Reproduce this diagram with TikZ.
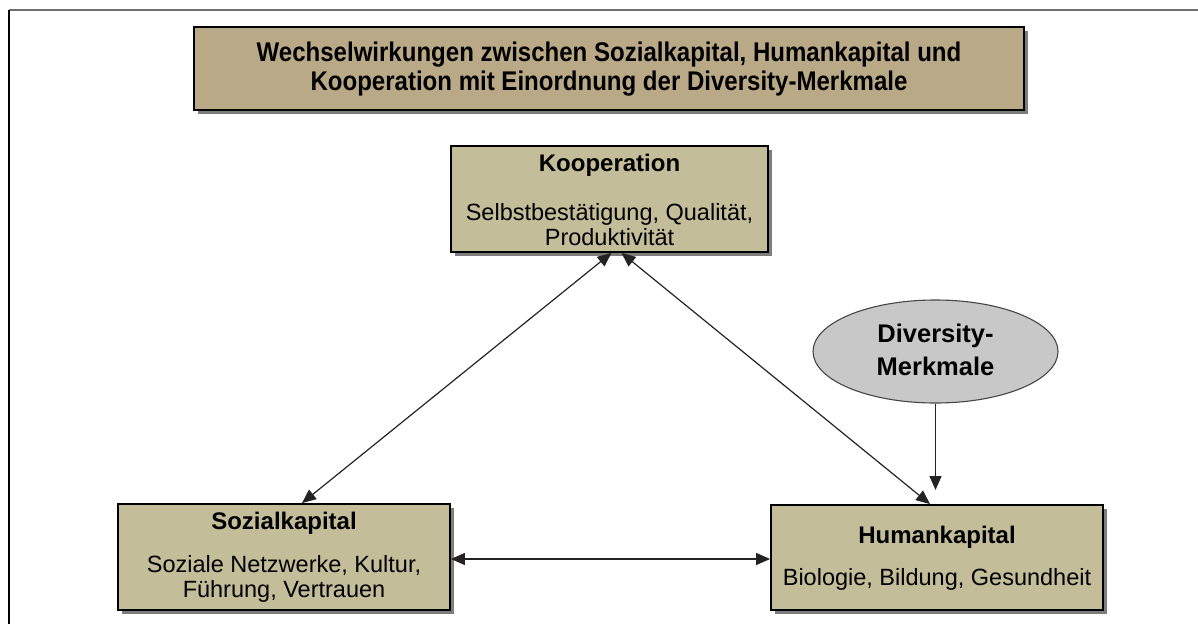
\documentclass[tikz,border=0pt]{standalone}
\usepackage{fontspec}
\setmainfont{Liberation Sans}
\newfontfamily\narrowsans[FakeStretch=0.89]{Liberation Sans}
\usetikzlibrary{arrows.meta,shapes.geometric,shadows}
\definecolor{titlefill}{RGB}{185,169,135}
\definecolor{boxfill}{RGB}{196,189,153}
\definecolor{ovalfill}{RGB}{200,200,200}
\definecolor{ovalline}{RGB}{70,70,70}
\definecolor{shadowgray}{RGB}{125,125,125}
\definecolor{linkgray}{RGB}{35,35,35}
\definecolor{framegray}{RGB}{110,110,110}
\begin{document}
\begin{tikzpicture}[x=1pt,y=-1pt,
  panel/.style={rectangle, draw=black, line width=1.8pt, fill=boxfill,
    inner sep=0pt,
    drop shadow={shadow xshift=4pt, shadow yshift=-4pt, fill=shadowgray, opacity=1}},
  heading/.style={inner sep=0pt, font=\bfseries\fontsize{24}{28}\selectfont},
  detail/.style={inner sep=0pt, align=center, font=\fontsize{23.5}{25}\selectfont},
  link/.style={draw=linkgray, line width=1.2pt,
    {Triangle[length=14pt,width=12pt]}-{Triangle[length=14pt,width=12pt]}},
  feed/.style={draw=linkgray, line width=1.2pt, -{Triangle[length=14pt,width=12pt]}}]
\useasboundingbox (0,0) rectangle (1198,624);
% outer frame, only top and left edges visible
\draw[framegray, line width=1.6pt] (9,10) -- (1198,10);
\draw[black, line width=1.6pt] (9,624) -- (9,10);

% title banner
\node[panel, fill=titlefill, minimum width=830pt, minimum height=83pt] (banner) at (609,68.5) {};
\node[inner sep=0pt, align=center, font=\narrowsans\bfseries\fontsize{27}{29}\selectfont] (bannertext) at (609,69.5)
  {Wechselwirkungen zwischen Sozialkapital, Humankapital und\\Kooperation mit Einordnung der Diversity-Merkmale};

% the three capital boxes
\node[panel, minimum width=317pt, minimum height=106pt] (koop) at (609.5,199) {};
\node[heading] (kooptitle) at (609.5,165) {Kooperation};
\node[detail] (kooptext) at (609.5,225) {Selbstbestätigung, Qualität,\\Produktivität};

\node[panel, minimum width=332pt, minimum height=106pt] (sozial) at (284,557) {};
\node[heading] (sozialtitle) at (284,523) {Sozialkapital};
\node[detail] (sozialtext) at (284,578.5) {Soziale Netzwerke, Kultur,\\Führung, Vertrauen};

\node[panel, minimum width=332pt, minimum height=105pt] (hum) at (937,557.5) {};
\node[heading] (humtitle) at (937,537) {Humankapital};
\node[detail] (humtext) at (937,579) {Biologie, Bildung, Gesundheit};

% diversity oval
\node[ellipse, draw=ovalline, line width=1.1pt, fill=ovalfill,
  minimum width=245pt, minimum height=103pt, inner sep=0pt] (div) at (935.5,351.5) {};
\node[inner sep=0pt, align=center, font=\bfseries\fontsize{25.5}{33}\selectfont] (divtext) at (935.5,349.5)
  {Diversity-\\Merkmale};

% connectors
\coordinate (divtip) at (935.5,490);
\draw[link] ([xshift=2pt]koop.south) -- ([xshift=18pt]sozial.north);
\draw[link] ([xshift=12pt]koop.south) -- ([xshift=-7pt]hum.north);
\draw[link] ([yshift=-2pt]sozial.east) -- ([yshift=-2pt]sozial.east -| hum.west);
\draw[feed] (div.south) -- (divtip);
\end{tikzpicture}
\end{document}
